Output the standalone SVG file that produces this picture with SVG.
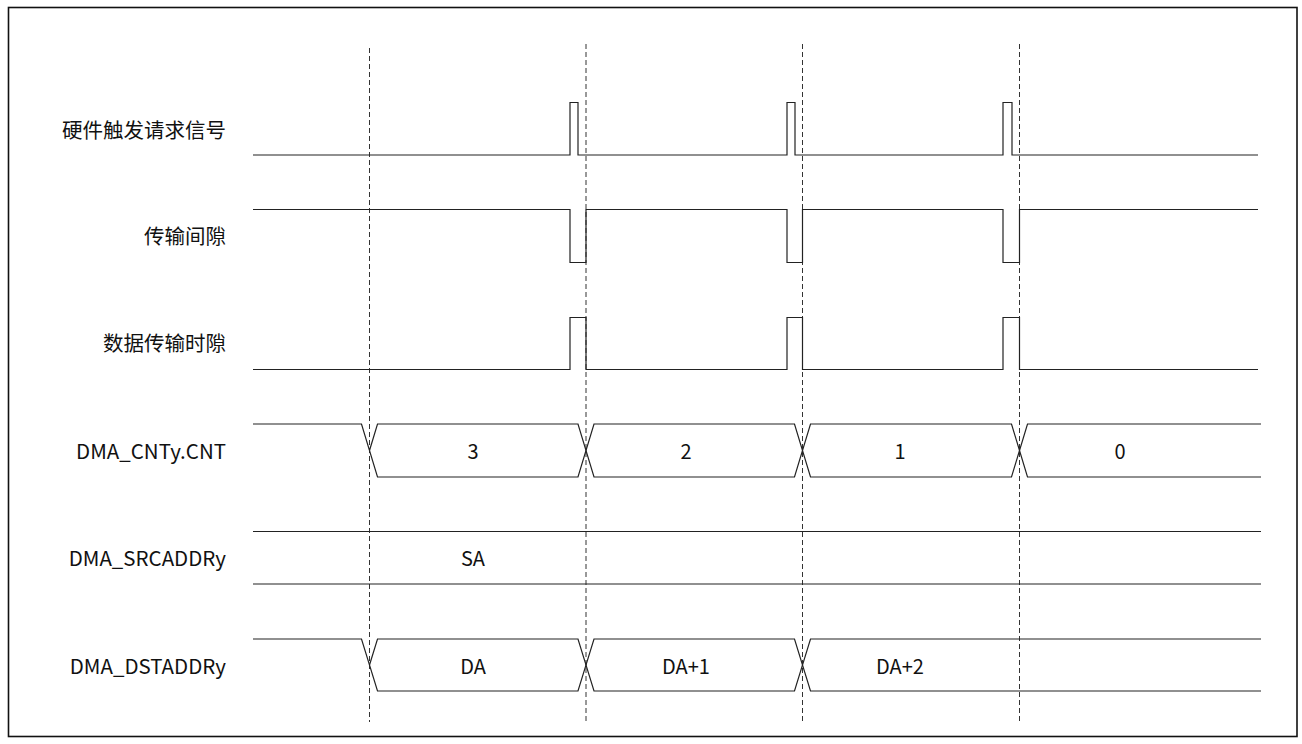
<svg xmlns="http://www.w3.org/2000/svg" width="1302" height="744" viewBox="0 0 1302 744">
<style>
.lbl{font-family:"Noto Sans CJK SC","Noto Sans",sans-serif;font-size:20.5px;fill:#111;text-anchor:end;dominant-baseline:central}
.val{font-family:"Noto Sans CJK SC","Noto Sans",sans-serif;font-size:20px;fill:#111;text-anchor:middle;dominant-baseline:central}
.sig{fill:none;stroke:#222;stroke-width:1.2}
.dash{fill:none;stroke:#333;stroke-width:1;stroke-dasharray:5 3}
</style>
<rect x="0" y="0" width="1302" height="744" fill="#fff"/>
<rect x="8.5" y="7.5" width="1288.5" height="729" fill="none" stroke="#111" stroke-width="1.6"/>
<g id="connectors">
<line class="dash" x1="369.5" y1="48" x2="369.5" y2="722"/>
<line class="dash" x1="586" y1="44" x2="586" y2="722"/>
<line class="dash" x1="802.5" y1="44" x2="802.5" y2="722"/>
<line class="dash" x1="1019.5" y1="44" x2="1019.5" y2="722"/>
</g>
<g id="trigger">
<text class="lbl" x="226" y="129">硬件触发请求信号</text>
<path class="sig" d="M253,155 H570 V102.5 H578 V155 H787 V102.5 H795 V155 H1003 V102.5 H1012 V155 H1258"/>
</g>
<g id="gap">
<text class="lbl" x="226" y="235">传输间隙</text>
<path class="sig" d="M253,209.5 H570 V262.5 H586 V209.5 H787 V262.5 H802.5 V209.5 H1003 V262.5 H1019.5 V209.5 H1258"/>
</g>
<g id="slot">
<text class="lbl" x="226" y="342">数据传输时隙</text>
<path class="sig" d="M253,369.5 H570 V317.5 H586 V369.5 H787 V317.5 H802.5 V369.5 H1003 V317.5 H1019.5 V369.5 H1258"/>
</g>
<g id="cnt">
<text class="lbl" x="226" y="450">DMA_CNTy.CNT</text>
<path class="sig" d="M253,424 H361.5 L377.5,477 H578 L594,424 H794.5 L810.5,477 H1011.5 L1027.5,424 H1261"/>
<path class="sig" d="M369.5,450.5 L377.5,424 H578 L594,477 H794.5 L810.5,424 H1011.5 L1027.5,477 H1261"/>
<text class="val" x="473" y="450.5">3</text>
<text class="val" x="686" y="450.5">2</text>
<text class="val" x="900" y="450.5">1</text>
<text class="val" x="1120" y="450.5">0</text>
</g>
<g id="src">
<text class="lbl" x="226" y="557">DMA_SRCADDRy</text>
<path class="sig" d="M253,531.5 H1261 M253,584 H1261"/>
<text class="val" x="473" y="557">SA</text>
</g>
<g id="dst">
<text class="lbl" x="226" y="665">DMA_DSTADDRy</text>
<path class="sig" d="M253,639 H361.5 L377.5,691 H578 L594,639 H794.5 L810.5,691 H1261"/>
<path class="sig" d="M369.5,665 L377.5,639 H578 L594,691 H794.5 L810.5,639 H1261"/>
<text class="val" x="473" y="665">DA</text>
<text class="val" x="686" y="665">DA+1</text>
<text class="val" x="900" y="665">DA+2</text>
</g>
</svg>
